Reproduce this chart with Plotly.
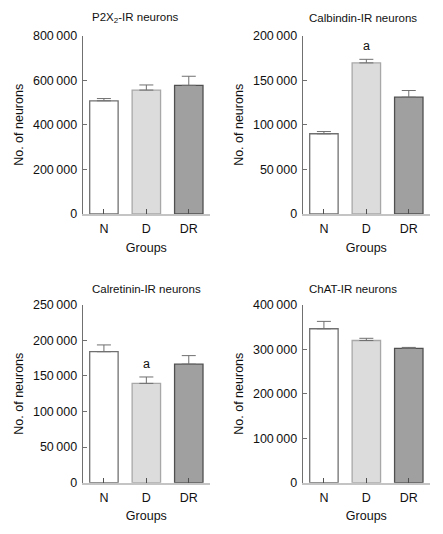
import plotly.graph_objects as go

groups = ["N", "D", "DR"]

titles = ["P2X<sub>2</sub>-IR neurons", "Calbindin-IR neurons",
          "Calretinin-IR neurons", "ChAT-IR neurons"]

p2x2_mean = [508000, 556000, 577000]
p2x2_sem = [10000, 23000, 41000]

calbindin_mean = [90000, 169500, 131000]
calbindin_sem = [2500, 4000, 7500]

calretinin_mean = [184000, 139500, 166500]
calretinin_sem = [9500, 9000, 12000]

chat_mean = [346000, 319500, 302000]
chat_sem = [16500, 5000, 2000]

y_max = [800000, 200000, 250000, 400000]
y_tickvals = [
    [0, 200000, 400000, 600000, 800000],
    [0, 50000, 100000, 150000, 200000],
    [0, 50000, 100000, 150000, 200000, 250000],
    [0, 100000, 200000, 300000, 400000],
]
y_ticktext = [
    ["0", "200\u2009000", "400\u2009000", "600\u2009000", "800\u2009000"],
    ["0", "50\u2009000", "100\u2009000", "150\u2009000", "200\u2009000"],
    ["0", "50\u2009000", "100\u2009000", "150\u2009000", "200\u2009000", "250\u2009000"],
    ["0", "100\u2009000", "200\u2009000", "300\u2009000", "400\u2009000"],
]
# significance marks ("a") per panel, on group index
sig_marks = [None, 1, 1, None]

fill_colors = ["#ffffff", "#dcdcdc", "#a0a0a0"]
line_colors = ["#707070", "#a8a8a8", "#505050"]

means = [p2x2_mean, calbindin_mean, calretinin_mean, chat_mean]
sems = [p2x2_sem, calbindin_sem, calretinin_sem, chat_sem]

OFF = 8  # page body margin
W, H = 443 - OFF, 534 - OFF
FONT = "Liberation Sans, Arial, sans-serif"

# plot areas in screen pixels (left, right, top, bottom)
areas = [
    (82.7, 210.0, 35.7, 214.0),
    (302.7, 430.0, 35.7, 214.0),
    (82.7, 210.0, 304.7, 482.7),
    (302.7, 430.0, 304.7, 482.7),
]
title_pos = [(90, 18), (307, 18), (90, 288.5), (307, 288.5)]

fig = go.Figure()
annotations = []
layout = {}
for i in range(4):
    xa = "x" if i == 0 else f"x{i+1}"
    ya = "y" if i == 0 else f"y{i+1}"
    xkey = "xaxis" if i == 0 else f"xaxis{i+1}"
    ykey = "yaxis" if i == 0 else f"yaxis{i+1}"
    fig.add_trace(go.Bar(
        x=groups, y=means[i], xaxis=xa, yaxis=ya, width=0.67,
        marker=dict(color=fill_colors, line=dict(color=line_colors, width=1.3)),
        error_y=dict(type="data", array=sems[i], arrayminus=[0, 0, 0],
                     symmetric=False, color="#707070", thickness=1, width=7),
        showlegend=False, hoverinfo="skip",
    ))
    l, r, t, b = [v - OFF for v in areas[i]]
    layout[xkey] = dict(
        domain=[l / W, r / W], anchor=ya, range=[-0.5, 2.5], automargin=False,
        showline=True, linecolor="#c4c4c4", linewidth=2,
        ticks="inside", ticklen=5, tickcolor="#505050", tickwidth=1,
        showgrid=False, zeroline=False, fixedrange=True,
        tickfont=dict(family=FONT, size=12.5, color="#111"),
        ticklabelstandoff=2,
        title=dict(text="Groups", font=dict(family=FONT, size=12.5, color="#111"), standoff=8),
    )
    layout[ykey] = dict(
        domain=[1 - b / H, 1 - t / H], anchor=xa, range=[0, y_max[i]], automargin=False,
        showline=True, linecolor="#707070", linewidth=1,
        ticks="inside", ticklen=4, tickcolor="#707070", tickwidth=1,
        tickvals=y_tickvals[i], ticktext=y_ticktext[i],
        showgrid=False, zeroline=False, fixedrange=True,
        tickfont=dict(family=FONT, size=12.5, color="#111"),
        ticklabelstandoff=2,
        title=dict(text="No. of neurons", font=dict(family=FONT, size=12.5, color="#111"), standoff=6),
    )
    tx, ty = title_pos[i]
    annotations.append(dict(
        text=titles[i], x=(tx - OFF) / W, y=1 - (ty - OFF) / H, xref="paper", yref="paper",
        xanchor="left", yanchor="middle", showarrow=False,
        font=dict(family=FONT, size=11.5, color="#111"),
    ))
    if sig_marks[i] is not None:
        g = sig_marks[i]
        annotations.append(dict(
            text="a", x=groups[g], y=means[i][g] + sems[i][g], xref=xa, yref=ya,
            xanchor="center", yanchor="middle", yshift=13, showarrow=False,
            font=dict(family=FONT, size=12.5, color="#111"),
        ))

fig.update_layout(
    width=W, height=H, margin=dict(l=0, r=0, t=0, b=0, autoexpand=False),
    paper_bgcolor="white", plot_bgcolor="white",
    annotations=annotations, **layout,
)

fig.write_html("out.html")
